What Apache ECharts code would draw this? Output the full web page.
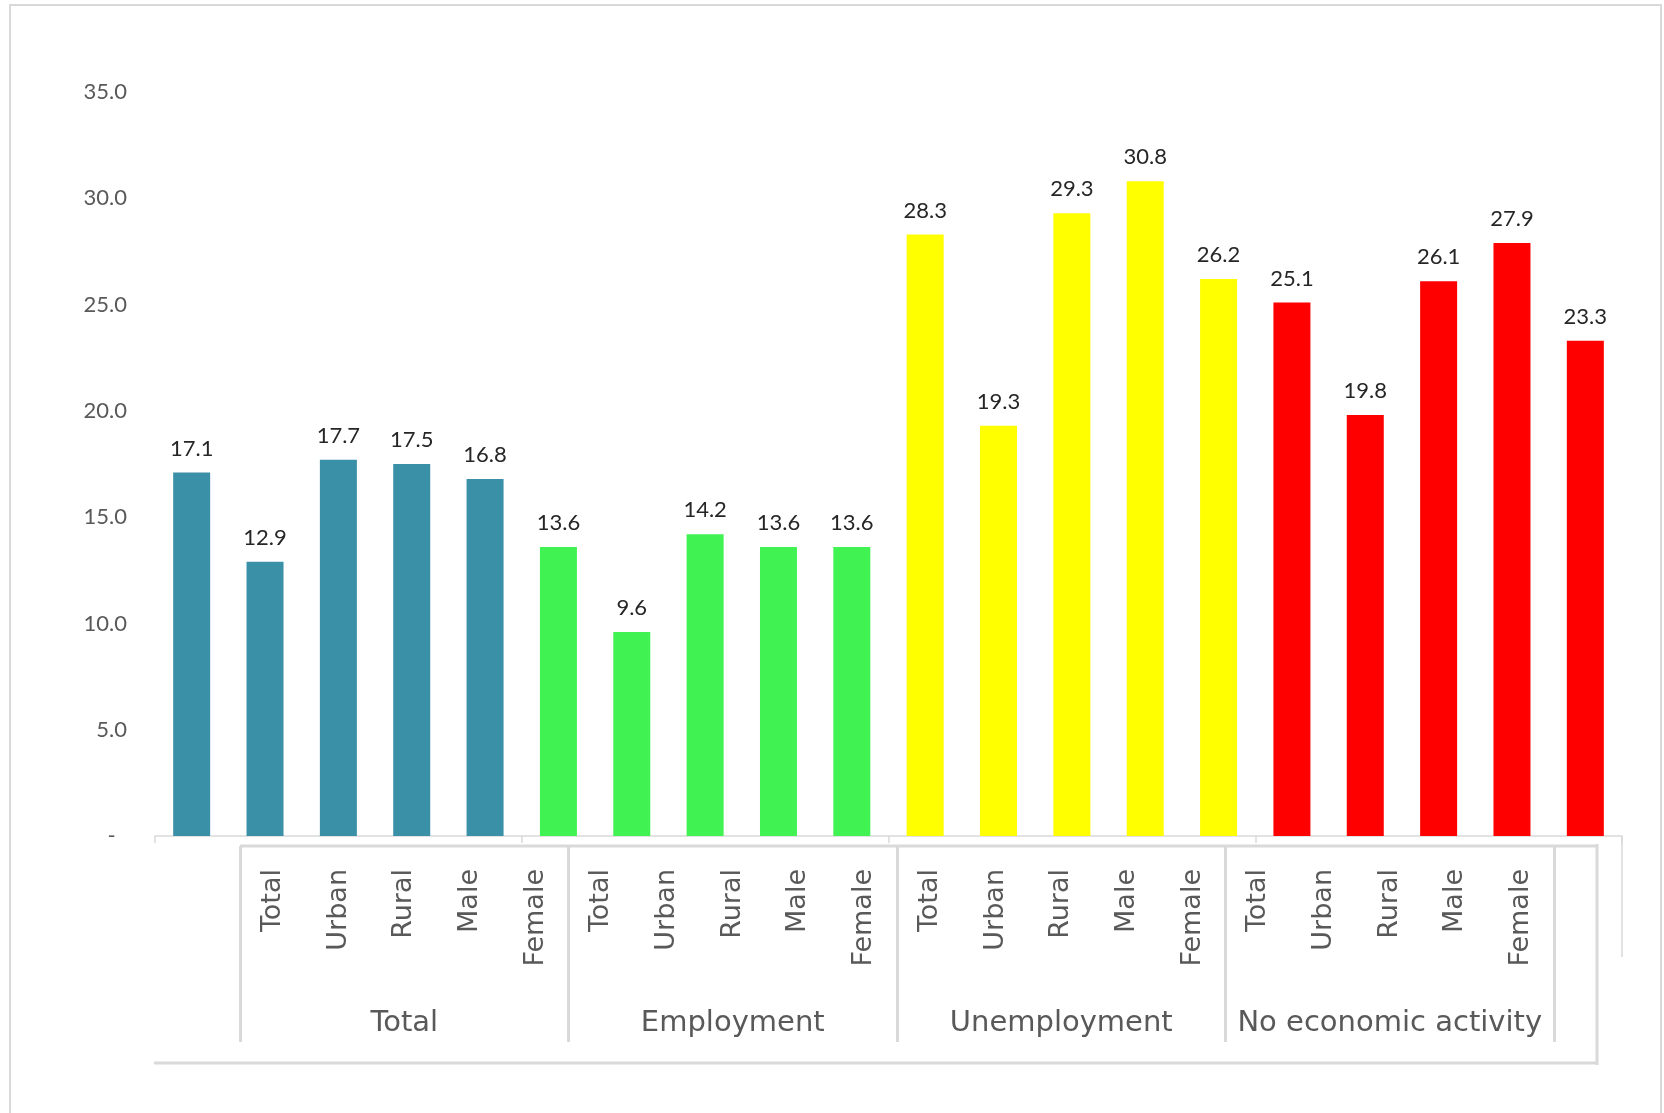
<!DOCTYPE html>
<html>
<head>
<meta charset="utf-8">
<title>Indicator by activity status</title>
<script src="https://cdn.jsdelivr.net/npm/echarts@6/dist/echarts.min.js"></script>
<style>
  html, body { margin: 0; padding: 0; background: #ffffff; }
  #chart { width: 1664px; height: 1113px; }
</style>
</head>
<body>
<div id="chart"></div>
<script>
// Sub-categories repeated inside every activity group
const subCategories = ['Total', 'Urban', 'Rural', 'Male', 'Female'];
// Activity groups (outer axis level)
const groups = ['Total', 'Employment', 'Unemployment', 'No economic activity'];
// Values per group, in sub-category order
const totalValues        = [17.1, 12.9, 17.7, 17.5, 16.8];
const employmentValues   = [13.6, 9.6, 14.2, 13.6, 13.6];
const unemploymentValues = [28.3, 19.3, 29.3, 30.8, 26.2];
const inactivityValues   = [25.1, 19.8, 26.1, 27.9, 23.3];
// Bar colour of each group
const groupColors = ['#3a90a6', '#41f253', '#ffff00', '#ff0000'];

const groupValues = [totalValues, employmentValues, unemploymentValues, inactivityValues];

// Flatten into one category per bar
const barCategories = [];
const barData = [];
groups.forEach((g, gi) => {
  subCategories.forEach((s, si) => {
    barCategories.push(g + '|' + s);
    barData.push({ value: groupValues[gi][si], itemStyle: { color: groupColors[gi] } });
  });
});

const chart = echarts.init(document.getElementById('chart'), null, { renderer: 'canvas' });

const lineGray = '#d9d9d9';
const textGray = '#595959';

chart.setOption({
  animation: false,
  backgroundColor: '#ffffff',
  grid: [
    { left: 155, right: 42, top: 92, bottom: 277 },
    { left: 240, width: 1314, top: 845, height: 1 },
    { left: 240, width: 1314, top: 1041, height: 1 }
  ],
  xAxis: [
    {
      gridIndex: 0,
      type: 'category',
      data: barCategories,
      axisLine: { show: true, lineStyle: { color: lineGray, width: 1.5 } },
      axisTick: {
        show: true,
        length: 7,
        interval: (i) => i % subCategories.length === 0,
        lineStyle: { color: lineGray, width: 1.5 }
      },
      axisLabel: { show: false }
    },
    {
      gridIndex: 1,
      type: 'category',
      data: barCategories,
      axisLine: { show: false },
      axisTick: { show: false },
      axisLabel: {
        interval: 0,
        rotate: 90,
        margin: 23,
        fontFamily: 'DejaVu Sans',
        fontSize: 27,
        color: textGray,
        formatter: (v) => v.split('|')[1]
      }
    },
    {
      gridIndex: 2,
      type: 'category',
      data: groups,
      axisLine: { show: false },
      axisTick: {
        show: true,
        inside: true,
        length: 196,
        interval: 0,
        lineStyle: { color: lineGray, width: 3 }
      },
      axisLabel: {
        inside: true,
        interval: 0,
        margin: 4,
        fontFamily: 'DejaVu Sans',
        fontSize: 29,
        color: textGray
      }
    }
  ],
  yAxis: [
    {
      gridIndex: 0,
      type: 'value',
      min: 0,
      max: 35,
      interval: 5,
      axisLine: { show: false },
      axisTick: { show: false },
      splitLine: { show: false },
      axisLabel: {
        margin: 28,
        fontFamily: 'Lato',
        fontSize: 22,
        color: textGray,
        formatter: (v) => (v === 0 ? '-  ' : v.toFixed(1))
      }
    },
    { gridIndex: 1, type: 'value', show: false },
    { gridIndex: 2, type: 'value', show: false }
  ],
  series: [
    {
      type: 'bar',
      xAxisIndex: 0,
      yAxisIndex: 0,
      data: barData,
      barWidth: 37,
      label: {
        show: true,
        position: 'top',
        distance: 13,
        fontFamily: 'Lato',
        fontSize: 22,
        color: '#262626',
        formatter: (p) => p.value.toFixed(1)
      }
    }
  ],
  graphic: [
    // chart frame
    { type: 'rect', silent: true, shape: { x: 10, y: 5, width: 1651, height: 1140 },
      style: { fill: 'none', stroke: lineGray, lineWidth: 2 } },
    // category label box
    { type: 'line', silent: true, shape: { x1: 240, y1: 846, x2: 1597, y2: 846 },
      style: { stroke: lineGray, lineWidth: 3 } },
    { type: 'line', silent: true, shape: { x1: 1597, y1: 844, x2: 1597, y2: 1065 },
      style: { stroke: lineGray, lineWidth: 3 } },
    { type: 'line', silent: true, shape: { x1: 154, y1: 1063, x2: 1597, y2: 1063 },
      style: { stroke: lineGray, lineWidth: 3 } },
    // closing edge of the bar axis
    { type: 'line', silent: true, shape: { x1: 1622, y1: 836, x2: 1622, y2: 957 },
      style: { stroke: lineGray, lineWidth: 1.5 } }
  ]
});
</script>
</body>
</html>
